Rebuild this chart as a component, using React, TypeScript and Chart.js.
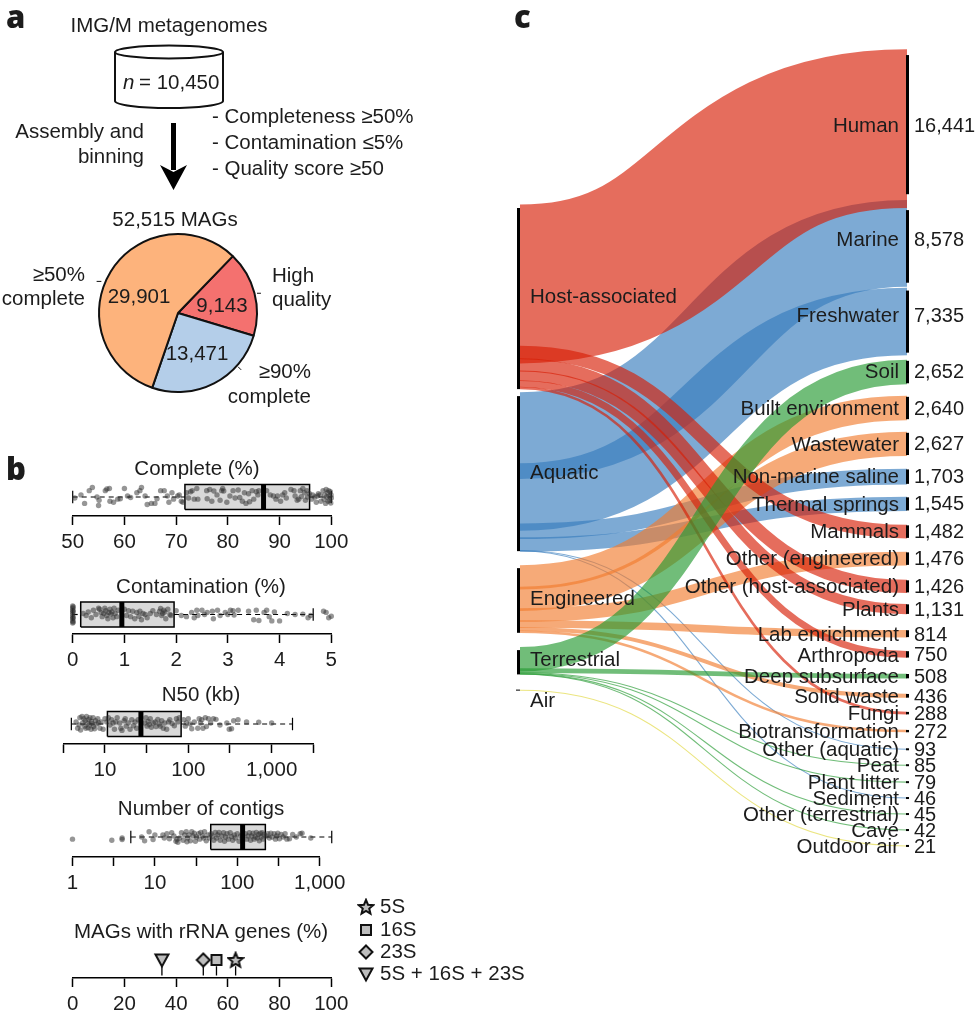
import React, { useEffect, useRef } from "react";
import { Chart, registerables } from "chart.js";

Chart.register(...registerables);
Chart.defaults.font.family = '"Liberation Sans", Arial, sans-serif';

// ---------- Panel a ----------
const pieLabels = ["High quality", "≥90% complete", "≥50% complete"];
const pieValues = [9143, 13471, 29901];
const pieValueText = ["9,143", "13,471", "29,901"];
const filterLines = ["- Completeness ≥50%", "- Contamination ≤5%", "- Quality score ≥50"];

// ---------- Panel b ----------
const completeBox = [50, 71.7, 86.9, 95.8, 100];
const contaminationBox = [0, 0.155, 0.95, 1.96, 4.65];
const n50Box = [3.95, 10.7, 27, 82, 1780];
const contigsBox = [5.1, 47.6, 116, 219, 1400];

const linear50Ticks = [50, 60, 70, 80, 90, 100];
const contaminationTicks = [0, 1, 2, 3, 4, 5];
const n50Ticks = [3.162, 10, 31.62, 100, 316.2, 1000, 3162];
const n50TickLabels = ["", "10", "", "100", "", "1,000", ""];
const contigTicks = [1, 3.162, 10, 31.62, 100, 316.2, 1000];
const contigTickLabels = ["1", "", "10", "", "100", "", "1,000"];
const rrnaTicks = [0, 20, 40, 60, 80, 100];
const rrnaNames = ["5S", "16S", "23S", "5S + 16S + 23S"];
const rrnaValues = [63, 55.6, 50.5, 34.5];

const completePoints = [[50.4,-.05],[51.6,.1],[52.3,-.3],[53.2,.3],[53.8,.45],[54.7,0],[55,-.4],[55.1,-.15],[56.3,.3],[56.6,.38],[57.1,.4],[57.2,-.2],[57.9,-.25],[58.7,-.1],[59.2,-.08],[60,.4],[60.6,.05],[61.2,-.02],[62.4,.2],[63,.3],[63.3,.45],[64,.05],[64.4,-.35],[65.2,-.3],[65.9,-.3],[66.3,-.08],[67,.3],[67.7,.3],[68.3,.05],[68.6,-.25],[69.2,.2],[69.5,-.1],[70.3,.05],[70.6,.1],[71,-.2],[71.3,-.25],[72,.2],[72.4,-.05],[72.8,.25],[73.1,.3],[73.5,-.1],[74,.4],[74.2,-.1],[75.9,.3],[76,-.08],[76.5,.35],[76.9,-.2],[77.3,.28],[77.9,.1],[78.5,-.15],[78.8,.3],[79,.4],[79.2,.28],[79.8,-.25],[80.4,.05],[81,.3],[81.4,-.05],[82,.33],[82.3,-.02],[82.8,-.2],[83.2,.2],[83.5,-.3],[84,.15],[84.2,-.22],[84.7,.3],[85,-.1],[85.5,.25],[86,.3],[85.8,.1],[87.5,.3],[88.2,.1],[88.8,.05],[89.3,-.1],[89.6,.05],[90.2,-.2],[90.6,.1],[91,.2],[91.3,-.05],[92.2,.35],[92.8,.3],[93,.05],[93.4,-.15],[93.7,-.1],[94,.3],[94.2,.02],[94.5,.4],[94.8,.2],[95,-.15],[95.3,.3],[95.4,0],[95.8,.15],[96.2,-.1],[96.4,.1],[96.8,0],[97.1,-.25],[97.3,.05],[97.5,.15],[97.8,.1],[98,-.2],[98.4,.3],[98.6,-.1],[98.7,.1],[98.9,-.3],[99,.35],[99.1,0],[99.3,.2],[99.4,-.2],[99.5,.3],[99.6,.05],[99.7,-.15],[99.8,.25],[99.9,-.28],[99.95,.1],[100,-.05]];
const contaminationPoints = [[0,.4],[0,.3],[0,.2],[0,.1],[0,0],[0,-.1],[0,-.2],[0,-.3],[0,-.4],[.01,.35],[.01,-.35],[.01,.15],[.01,-.15],[.2,.05],[.26,-.05],[.3,.12],[.36,-.15],[.4,.2],[.45,0],[.5,.3],[.52,.25],[.55,.1],[.57,-.1],[.6,.05],[.62,.3],[.64,.18],[.66,-.05],[.68,-.2],[.7,.1],[.72,.25],[.74,.02],[.76,.12],[.78,-.15],[.8,.3],[.82,.05],[.85,-.1],[.88,.2],[1,.25],[1.04,-.05],[1.08,.18],[1.12,-.1],[1.16,.15],[1.2,-.2],[1.24,.1],[1.28,-.08],[1.3,.15],[1.33,-.25],[1.36,.05],[1.4,0],[1.44,-.15],[1.5,.05],[1.55,.18],[1.62,0],[1.68,.15],[1.7,.28],[1.72,-.05],[1.74,.05],[1.76,.2],[1.78,.12],[1.8,-.2],[1.84,.25],[1.88,0],[1.9,-.05],[2,.18],[2.1,-.05],[2.2,-.1],[2.3,.1],[2.35,-.15],[2.4,.2],[2.42,-.05],[2.5,.2],[2.55,0],[2.6,.1],[2.7,.15],[2.72,-.2],[2.8,.2],[2.85,-.05],[2.95,.1],[3,0],[3.05,.2],[3.1,.18],[3.12,-.02],[3.2,.2],[3.4,.15],[3.55,.2],[3.5,-.25],[3.6,-.28],[3.7,.1],[3.75,.2],[3.8,-.1],[3.85,-.3],[3.9,.12],[4,-.3],[4.15,.05],[4.3,0],[4.45,.02],[4.55,-.15],[4.6,-.05],[4.85,.15],[4.9,.1],[4.95,-.15],[5,-.08]];
const n50Points = [[4.5,.1],[4.7,-.2],[4.9,-.05],[5,.3],[5.1,-.28],[5.3,.35],[5.4,.05],[5.6,.25],[5.7,-.1],[5.8,.15],[5.9,-.2],[6,.35],[6.2,.05],[6.3,-.18],[6.4,.2],[6.5,-.05],[6.6,.3],[6.8,-.25],[6.9,.12],[7,.02],[7.2,.3],[7.3,-.12],[7.5,-.22],[7.7,.15],[7.9,0],[8.2,.25],[8.4,.05],[8.7,-.2],[9,.1],[9.5,-.25],[10,.25],[10.5,.1],[11,.3],[11.5,-.05],[12,.2],[12.5,.05],[13,-.25],[13.5,.1],[14,.3],[15,.05],[15.5,-.2],[16,-.3],[17,.15],[17.5,.25],[18,-.1],[19,.05],[20,-.25],[21,.2],[22,-.08],[23,.1],[24,-.2],[25,.2],[30,.05],[31,.3],[32,-.1],[33,.12],[34,-.02],[35,.25],[36,-.15],[38,.05],[40,.1],[41,-.12],[43,.22],[45,0],[46,-.1],[48,.15],[50,-.2],[52,.05],[55,-.25],[58,.1],[60,.2],[64,.02],[68,-.08],[72,.25],[75,.1],[78,.3],[88,.2],[92,-.1],[95,.05],[100,.25],[105,0],[110,-.22],[118,.1],[130,-.2],[135,.25],[140,.05],[145,.2],[150,-.2],[160,.3],[165,-.12],[175,.25],[185,.05],[200,.25],[215,.22],[240,-.05],[290,.05],[310,-.25],[330,-.22],[350,.15],[395,.2],[500,.1],[700,.08],[1000,.05]];
const contigPoints = [[1,-.1],[3,-.15],[4,-.05],[4,-.12],[6.9,0],[7.5,-.18],[8.5,.25],[9.5,-.12],[10,.1],[12.5,.1],[13,-.05],[14,.15],[15,-.08],[16,.2],[17,.05],[18,-.2],[18.5,-.1],[19,-.25],[20,-.05],[21,.2],[22,-.15],[23,.1],[24,.25],[24.5,-.22],[25,-.05],[26,.1],[27,-.18],[28,.25],[29,.05],[30,.18],[31,-.2],[32,0],[34,.15],[35,-.1],[36,.22],[38,.05],[39,-.05],[40,.25],[42,-.18],[44,.1],[46,-.05],[48,.15],[50,.05],[52,-.15],[54,.22],[56,-.05],[58,.1],[60,.22],[62,-.15],[65,.05],[68,.2],[70,-.2],[72,0],[75,.15],[78,-.1],[82,.2],[85,.02],[88,-.15],[92,.1],[95,-.05],[100,.15],[105,-.2],[110,.05],[125,.15],[130,-.1],[135,.05],[140,.2],[145,-.15],[150,.05],[155,.18],[160,-.1],[165,0],[170,.22],[175,-.05],[180,.12],[185,-.18],[190,.18],[195,0],[200,.2],[205,-.1],[210,.12],[225,.05],[235,.15],[245,-.05],[255,.18],[265,0],[280,.15],[290,-.1],[300,.05],[310,.18],[325,-.08],[340,.12],[360,0],[380,.15],[400,-.1],[430,-.08],[470,.12],[520,0],[580,.15],[610,.18],[780,-.05]];

// ---------- Panel c ----------
const sourceNames = ["Host-associated", "Aquatic", "Engineered", "Terrestrial", "Air"];
const targetNames = ["Human", "Marine", "Freshwater", "Soil", "Built environment", "Wastewater", "Non-marine saline", "Thermal springs", "Mammals", "Other (engineered)", "Other (host-associated)", "Plants", "Lab enrichment", "Arthropoda", "Deep subsurface", "Solid waste", "Fungi", "Biotransformation", "Other (aquatic)", "Peat", "Plant litter", "Sediment", "Other (terrestrial)", "Cave", "Outdoor air"];
const targetValues = [16441, 8578, 7335, 2652, 2640, 2627, 1703, 1545, 1482, 1476, 1426, 1131, 814, 750, 508, 436, 288, 272, 93, 85, 79, 46, 45, 42, 21];
const targetSource = [0, 1, 1, 3, 2, 2, 1, 1, 0, 2, 0, 0, 2, 0, 3, 2, 0, 2, 1, 3, 3, 1, 3, 3, 4];

// Layout (not data)
const MAG_PX = 0.0092;
const SK_H = 870;
const RIGHT_GAPS = [49, 6.7, 2, 4.5, 11.6, 11.7, 12.8, 12.3, 13.8, 13.4, 14.4, 11, 15.6, 13.5, 16, 15.3, 14, 15.4, 16.5, 15.1, 16.2, 15.3, 15.6, 15.6, 15.6];
const RIGHT_LABEL_SHIFT = [1, -7, -6, -1, 0, 0, 0, 0, 0, 0, 0, 0.5, 0.5, 0.5, 0.5, 0.5, 0.5, 0.5, 0.5, 0.5, 0.5, 0.5, 0.5, 0.5, 0.5];
const LEFT_GAPS = [205, 4, 14, 14.3, 15.7];
const LEFT_PACK = [0.93, 0.89, 0.89, 0.87, 1];
const LEFT_LABEL_Y = [297, 473, 599, 660, 701];
const SOURCE_COLORS = ["215,31,6", "55,124,189", "241,125,47", "37,154,49", "225,215,60"];
const DRAW_ORDER = [1, 2, 0, 3, 4];
const CURVE_LEFT = 0.5;
const CURVE_RIGHT = 0.54;
// The two largest ribbons run a little wider than the stack and sit slightly off its centre.
const WIDE_FLOWS: Record<number, { width: number; nudgeLeft: number; nudgeRight: number; curveShift: number }> = {
  0: { width: 1.05, nudgeLeft: 3.4, nudgeRight: 4, curveShift: 0 },
  1: { width: 1.1, nudgeLeft: 3, nudgeRight: -3, curveShift: 0.03 },
};
const JITTER_SPREAD = 1.7;
const TXT = "#1c1c1c";

function text(ctx: CanvasRenderingContext2D, s: string, x: number, y: number, align: CanvasTextAlign = "left", size = 20.5, font = "") {
  ctx.save();
  ctx.font = font || `${size}px "Liberation Sans", Arial, sans-serif`;
  ctx.fillStyle = TXT;
  ctx.textAlign = align;
  ctx.textBaseline = "middle";
  ctx.fillText(s, x, y + 1);
  ctx.restore();
}

const PANEL_LETTER = '800 31px "Open Sans", sans-serif';

function makePieChart(canvas: HTMLCanvasElement) {
  const overlay = {
    id: "panelA",
    afterDatasetsDraw(chart: any) {
      const ctx: CanvasRenderingContext2D = chart.ctx;
      const arcs = chart.getDatasetMeta(0).data;
      const cx = arcs[0].x, cy = arcs[0].y, r = arcs[0].outerRadius;
      text(ctx, "a", 6, 18, "left", 31, PANEL_LETTER);
      text(ctx, "IMG/M metagenomes", 169, 25, "center");
      // cylinder
      ctx.save();
      ctx.strokeStyle = "#111"; ctx.lineWidth = 2;
      ctx.beginPath(); ctx.ellipse(169, 52, 54, 6.5, 0, 0, Math.PI * 2); ctx.stroke();
      ctx.beginPath(); ctx.moveTo(115, 52); ctx.lineTo(115, 101);
      ctx.ellipse(169, 101, 54, 7, 0, Math.PI, 0, true);
      ctx.lineTo(223, 52); ctx.stroke();
      // arrow
      ctx.fillStyle = "#000";
      ctx.fillRect(171, 123, 5, 47);
      ctx.beginPath(); ctx.moveTo(160, 165); ctx.lineTo(173.5, 172); ctx.lineTo(187, 165); ctx.lineTo(173.5, 190); ctx.closePath(); ctx.fill();
      // label ticks on the pie
      ctx.strokeStyle = "#111"; ctx.lineWidth = 1;
      [[-0.97, -0.4, -1.03, -0.4], [1.0, -0.25, 1.05, -0.25], [0.76, 0.68, 0.8, 0.72]].forEach(([a, b, c, d]) => {
        ctx.beginPath(); ctx.moveTo(cx + a * r, cy + b * r); ctx.lineTo(cx + c * r, cy + d * r); ctx.stroke();
      });
      ctx.restore();
      ctx.save();
      ctx.font = 'italic 20.5px "Liberation Sans", Arial, sans-serif';
      ctx.fillStyle = TXT; ctx.textBaseline = "middle";
      ctx.fillText("n", 123, 83);
      ctx.restore();
      text(ctx, "= 10,450", 139, 82);
      text(ctx, "Assembly and", 144, 131, "right");
      text(ctx, "binning", 144, 156, "right");
      filterLines.forEach((l, i) => text(ctx, l, 212, 116 + i * 26));
      text(ctx, "52,515 MAGs", 175, 219, "center");
      text(ctx, pieValueText[2], 139, 296, "center");
      text(ctx, pieValueText[0], 222, 305, "center");
      text(ctx, pieValueText[1], 197, 353, "center");
      text(ctx, "≥50%", 85, 274, "right");
      text(ctx, "complete", 85, 298, "right");
      text(ctx, "High", 272, 275);
      text(ctx, "quality", 272, 299);
      text(ctx, "≥90%", 311, 371, "right");
      text(ctx, "complete", 311, 396, "right");
    },
  };
  return new Chart(canvas, {
    type: "pie",
    data: {
      labels: pieLabels,
      datasets: [{ data: pieValues, backgroundColor: ["#f4716f", "#b4cee9", "#fdb37c"], borderColor: "#111", borderWidth: 2 }],
    },
    options: {
      responsive: false, animation: false, rotation: 44,
      layout: { padding: { left: 98, right: 172, top: 233, bottom: 27 } },
      plugins: { legend: { display: false }, tooltip: { enabled: false } },
    },
    plugins: [overlay],
  } as any);
}

const BOX_HALF = 12.5;

// Chart.js paints the first dataset last, so the list runs from top layer to bottom layer.
function boxDatasets(box: number[], points: number[][]) {
  const [lo, q1, med, q3, hi] = box;
  const ln = { showLine: true, pointRadius: 0, fill: false, clip: false as const, borderColor: "#000" };
  return [
    { ...ln, data: [{ x: med, y: -1 }, { x: med, y: 1 }], borderWidth: 5 },
    { data: points.map(([x, y]) => ({ x, y: y * JITTER_SPREAD })), pointRadius: 2.7, pointBorderWidth: 0, pointBackgroundColor: "rgba(45,45,45,0.5)", showLine: false, clip: false as const },
    { ...ln, data: [{ x: q1, y: -1 }, { x: q3, y: -1 }, { x: q3, y: 1 }, { x: q1, y: 1 }, { x: q1, y: -1 }], borderWidth: 1.5 },
    { ...ln, data: [{ x: lo, y: 0 }, { x: q1, y: 0 }], borderWidth: 1.2, borderDash: [5, 4] },
    { ...ln, data: [{ x: q3, y: 0 }, { x: hi, y: 0 }], borderWidth: 1.2, borderDash: [5, 4] },
    { ...ln, data: [{ x: lo, y: -0.5 }, { x: lo, y: 0.5 }], borderWidth: 1.2 },
    { ...ln, data: [{ x: hi, y: -0.5 }, { x: hi, y: 0.5 }], borderWidth: 1.2 },
    { ...ln, data: [{ x: q1, y: -1 }, { x: q3, y: -1 }, { x: q3, y: 1 }, { x: q1, y: 1 }, { x: q1, y: -1 }], borderWidth: 0, borderColor: "rgba(0,0,0,0)", fill: "shape", backgroundColor: "#d9d9d9" },
  ];
}

function axisChart(canvas: HTMLCanvasElement, cfg: any) {
  const top = cfg.canvasTop;
  const titlePlugin = {
    id: "panelText",
    afterDraw(chart: any) {
      text(chart.ctx, cfg.title, cfg.titleX, cfg.titleY - top, "center");
      cfg.extra && cfg.extra(chart);
    },
  };
  return new Chart(canvas, {
    type: "scatter",
    data: { datasets: cfg.datasets },
    options: {
      responsive: false, animation: false,
      layout: { padding: { left: cfg.left, right: canvas.width - cfg.right, top: cfg.center - BOX_HALF * 1.04 - top, bottom: 0 } },
      plugins: { legend: { display: false }, tooltip: { enabled: false } },
      scales: {
        x: {
          type: cfg.log ? "logarithmic" : "linear", min: cfg.ticks[0], max: cfg.ticks[cfg.ticks.length - 1], position: "bottom",
          offset: false,
          afterBuildTicks: (s: any) => { s.ticks = cfg.ticks.map((v: number) => ({ value: v })); },
          afterFit: (s: any) => { s.height = 50; },
          border: { display: true, color: "#000", width: 1.5 },
          grid: { display: true, drawOnChartArea: false, drawTicks: true, tickLength: 9, tickWidth: 1.5, tickColor: "#000" },
          ticks: {
            autoSkip: false, maxRotation: 0, padding: 5, color: TXT, font: { size: 20.5 },
            callback: (_v: any, i: number) => cfg.tickLabels[i],
          },
        },
        y: { type: "linear", display: false, min: -(cfg.axisY - cfg.center) / BOX_HALF, max: 1.04 },
      },
    },
    plugins: [titlePlugin],
  } as any);
}

function marker(kind: string) {
  const c = document.createElement("canvas");
  c.width = 18; c.height = 18;
  const g = c.getContext("2d")!;
  g.fillStyle = "#bdbdbd"; g.strokeStyle = "#111"; g.lineWidth = 2; g.lineJoin = "miter";
  g.beginPath();
  if (kind === "star") {
    for (let i = 0; i < 10; i++) {
      const rr = i % 2 ? 3.4 : 7.6, a = -Math.PI / 2 + (i * Math.PI) / 5;
      const px = 9 + rr * Math.cos(a), py = 9.5 + rr * Math.sin(a);
      i ? g.lineTo(px, py) : g.moveTo(px, py);
    }
  } else if (kind === "square") {
    g.rect(4, 4, 10, 10);
  } else if (kind === "diamond") {
    g.moveTo(9, 2.5); g.lineTo(15.5, 9); g.lineTo(9, 15.5); g.lineTo(2.5, 9);
  } else {
    g.moveTo(2.5, 3.5); g.lineTo(15.5, 3.5); g.lineTo(9, 15.5);
  }
  g.closePath(); g.fill(); g.stroke();
  return c;
}

function makeSankey(canvas: HTMLCanvasElement) {
  const left = 30, spanR = canvas.width - 30 - 387;
  const plugin = {
    id: "sankeyFlows",
    afterDatasetsDraw(chart: any) {
      const ctx: CanvasRenderingContext2D = chart.ctx;
      const X = chart.scales.x, Y = chart.scales.y;
      const x0 = X.getPixelForValue(0), x1 = X.getPixelForValue(1);
      const thick = (v: number) => Math.abs(Y.getPixelForValue(v) - Y.getPixelForValue(0));
      const unit = 1 / MAG_PX;

      // stack the right-hand nodes
      let cursor = 0;
      const rightTop: number[] = [];
      targetValues.forEach((v, i) => {
        cursor += RIGHT_GAPS[i] * unit;
        rightTop.push(cursor);
        cursor += v;
      });
      // stack the left-hand nodes, flows overlap by the pack factor
      let lc = 0;
      const sourceTop: number[] = [], sourceBottom: number[] = [];
      const flowTop: number[] = new Array(targetValues.length).fill(0);
      sourceNames.forEach((_, s) => {
        lc += LEFT_GAPS[s] * unit;
        sourceTop.push(lc);
        targetValues.forEach((v, i) => {
          if (targetSource[i] === s) { flowTop[i] = lc; lc += v * LEFT_PACK[s]; }
        });
        sourceBottom.push(lc);
      });

      ctx.save();
      ctx.lineCap = "butt";
      DRAW_ORDER.forEach((s) => {
        targetValues.forEach((v, i) => {
          if (targetSource[i] !== s) return;
          const wide = WIDE_FLOWS[i] || { width: 1, nudgeLeft: 0, nudgeRight: 0, curveShift: 0 };
          const yA = Y.getPixelForValue(flowTop[i] + v / 2) + wide.nudgeLeft;
          const yB = Y.getPixelForValue(rightTop[i] + v / 2) + wide.nudgeRight;
          const dx = x1 - x0;
          ctx.strokeStyle = `rgba(${SOURCE_COLORS[s]},0.65)`;
          ctx.lineWidth = Math.max(thick(v) * wide.width, 1.1);
          ctx.beginPath();
          ctx.moveTo(x0, yA);
          ctx.bezierCurveTo(x0 + (CURVE_LEFT + wide.curveShift) * dx, yA, x1 - (CURVE_RIGHT - wide.curveShift) * dx, yB, x1, yB);
          ctx.stroke();
        });
      });
      ctx.restore();

      // node bars
      ctx.save();
      ctx.fillStyle = "#000";
      sourceNames.forEach((_, s) => {
        const a = Y.getPixelForValue(sourceTop[s]), b = Y.getPixelForValue(sourceBottom[s]);
        if (s === 4) { ctx.fillRect(x0 - 4, a - 0.5, 4, 1); return; }
        ctx.fillRect(x0 - 3, a + 3, 3, b - a - 3);
      });
      targetValues.forEach((v, i) => {
        const t = thick(v), c = Y.getPixelForValue(rightTop[i] + v / 2);
        const h = Math.max(t * 0.92, 2);
        ctx.fillRect(x1 - 1, c - h / 2, 3, h);
      });
      ctx.restore();

      // labels
      sourceNames.forEach((n, s) => text(ctx, n, x0 + 10, LEFT_LABEL_Y[s] - 1, "left"));
      targetNames.forEach((n, i) => {
        const yy = Y.getPixelForValue(rightTop[i] + targetValues[i] / 2) + RIGHT_LABEL_SHIFT[i];
        text(ctx, n, x1 - 8, yy, "right");
        text(ctx, targetValues[i].toLocaleString("en-US"), x1 + 7, yy, "left", 20);
      });
      text(ctx, "c", x0 - 6, 18, "left", 31, PANEL_LETTER);
    },
  };
  return new Chart(canvas, {
    type: "scatter",
    data: { datasets: [{ data: [] }] },
    options: {
      responsive: false, animation: false,
      layout: { padding: { left, right: spanR, top: 0, bottom: 0 } },
      plugins: { legend: { display: false }, tooltip: { enabled: false } },
      scales: {
        x: { type: "linear", display: false, min: 0, max: 1 },
        y: { type: "linear", display: false, reverse: true, min: 0, max: SK_H / MAG_PX },
      },
    },
    plugins: [plugin],
  } as any);
}

const PANELS = [
  { key: "complete", title: "Complete (%)", titleX: 197, titleY: 468, center: 497, axisY: 516, left: 72.7, right: 331.3, ticks: linear50Ticks, tickLabels: linear50Ticks.map(String), box: completeBox, points: completePoints, log: false },
  { key: "contam", title: "Contamination (%)", titleX: 201, titleY: 586, center: 614.5, axisY: 634, left: 72.7, right: 331.3, ticks: contaminationTicks, tickLabels: contaminationTicks.map(String), box: contaminationBox, points: contaminationPoints, log: false },
  { key: "n50", title: "N50 (kb)", titleX: 201, titleY: 694, center: 724, axisY: 744, left: 63.3, right: 313.3, ticks: n50Ticks, tickLabels: n50TickLabels, box: n50Box, points: n50Points, log: true },
  { key: "contigs", title: "Number of contigs", titleX: 201, titleY: 808, center: 837, axisY: 857, left: 72.5, right: 319.7, ticks: contigTicks, tickLabels: contigTickLabels, box: contigsBox, points: contigPoints, log: true },
];

export default function App() {
  const pieRef = useRef<HTMLCanvasElement>(null);
  const sankeyRef = useRef<HTMLCanvasElement>(null);
  const boxRefs = useRef<(HTMLCanvasElement | null)[]>([]);
  const rrnaRef = useRef<HTMLCanvasElement>(null);

  useEffect(() => {
    const charts: Chart[] = [];
    charts.push(makePieChart(pieRef.current!));
    charts.push(makeSankey(sankeyRef.current!));
    PANELS.forEach((p, i) => {
      charts.push(axisChart(boxRefs.current[i]!, { ...p, canvasTop: p.titleY - 14, datasets: boxDatasets(p.box, p.points),
        extra: i === 0 ? (c: any) => text(c.ctx, "b", 6, 470 - (p.titleY - 14), "left", 31, PANEL_LETTER) : undefined }));
    });
    const kinds = ["star", "square", "diamond", "triangle"];
    const marks = kinds.map(marker);
    const rrnaTop = 895;
    const legendY = [906, 929, 951, 973];
    charts.push(axisChart(rrnaRef.current!, {
      title: "MAGs with rRNA genes (%)", titleX: 201, titleY: 931, canvasTop: rrnaTop, center: 960, axisY: 978, left: 72.7, right: 331.3,
      ticks: rrnaTicks, tickLabels: rrnaTicks.map(String), log: false,
      datasets: [
        ...rrnaValues.map((v, i) => ({ showLine: false, clip: false, pointStyle: marks[i], pointRadius: 8, data: [{ x: v, y: 0 }] })),
        ...rrnaValues.map((v) => ({ showLine: true, pointRadius: 0, borderColor: "#000", borderWidth: 1.3, clip: false, data: [{ x: v, y: -0.5 }, { x: v, y: -1.24 }] })),
      ],
      extra: (c: any) => {
        const ctx = c.ctx;
        rrnaNames.forEach((n, i) => {
          ctx.drawImage(marks[i], 366 - 9, legendY[i] + 1 - rrnaTop - 9);
          text(ctx, n, 380, legendY[i] - rrnaTop);
        });
      },
    }));
    return () => charts.forEach((c) => c.destroy());
  }, []);

  const abs = (x: number, y: number): React.CSSProperties => ({ position: "absolute", left: x, top: y });
  return (
    <div style={{ position: "absolute", left: 0, top: 0, width: 978, height: 1021, background: "#fff", overflow: "hidden" }}>
      <canvas ref={pieRef} width={430} height={420} style={abs(0, 0)} />
      <canvas ref={sankeyRef} width={488} height={SK_H} style={abs(490, 0)} />
      {PANELS.map((p, i) => (
        <canvas key={p.key} ref={(el) => { boxRefs.current[i] = el; }} width={400}
          height={p.axisY + 50 - (p.titleY - 14)} style={abs(0, p.titleY - 14)} />
      ))}
      <canvas ref={rrnaRef} width={540} height={978 + 50 - 895} style={abs(0, 895)} />
    </div>
  );
}
